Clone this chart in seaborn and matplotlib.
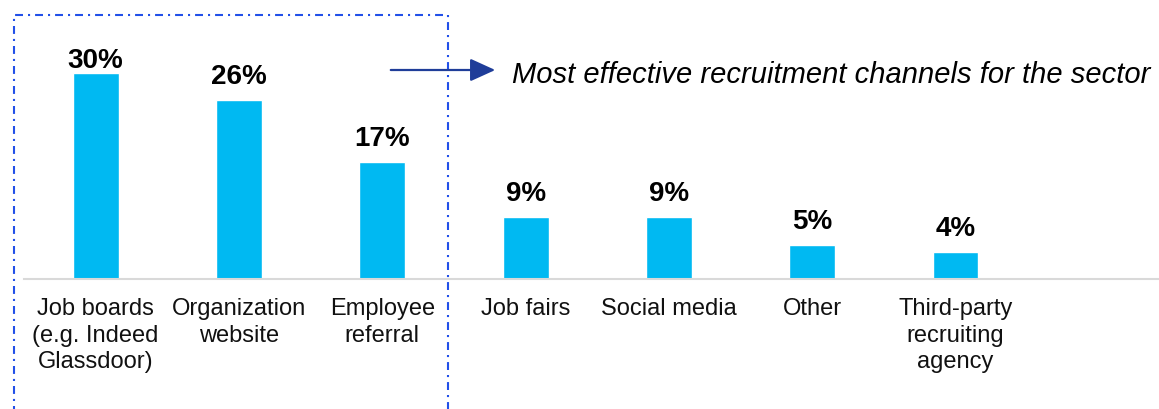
import matplotlib
matplotlib.use("Agg")
import matplotlib.pyplot as plt
import seaborn as sns
import pandas as pd
from matplotlib.patches import Rectangle, FancyArrowPatch

categories = ["Job boards\n(e.g. Indeed\nGlassdoor)", "Organization\nwebsite", "Employee\nreferral",
              "Job fairs", "Social media", "Other", "Third-party\nrecruiting\nagency"]
values = [30, 26, 17, 9, 9, 5, 4]
value_labels = ["30%", "26%", "17%", "9%", "9%", "5%", "4%"]
annotation = "Most effective recruitment channels for the sector"

sns.set_theme(style="white")
plt.rcParams['font.family'] = ['Liberation Sans', 'DejaVu Sans']

fig = plt.figure(figsize=(11.59, 4.09), dpi=100)
W, H = 1159, 409
ax = fig.add_axes([24 / W, (H - 279) / H, 1 - 24 / W, 279 / H])

df = pd.DataFrame({"cat": categories, "val": values})
sns.barplot(data=df, x="cat", y="val", color="#00b9f2", width=0.32, ax=ax, saturation=1)

ax.set_xlim(-0.5, 7.42)
ax.set_ylim(0, 40.6)
for s in ["top", "right", "left"]:
    ax.spines[s].set_visible(False)
ax.spines["bottom"].set_color("#d9d9d9")
ax.spines["bottom"].set_linewidth(1.5)
ax.set_yticks([])
ax.set_xlabel("")
ax.set_ylabel("")
ax.tick_params(axis="x", length=0, pad=14, labelsize=17)
for t in ax.get_xticklabels():
    t.set_linespacing(1.24)
    t.set_color("#111111")

# labels sit ~16px above bars, clamped below the chart top
gap = 2.33
top_limit = 30.7
for i, (v, lab) in enumerate(zip(values, value_labels)):
    ax.text(i, min(v + gap, top_limit), lab, ha="center", va="baseline",
            fontsize=20, fontweight="bold", color="black")

# dash-dot box
rect = Rectangle((14 / W, -0.1), (448 - 14) / W, (H - 15) / H + 0.1, transform=fig.transFigure,
                 fill=False, edgecolor="#2250e8", linewidth=1.5, linestyle=(0, (3.8, 2.4, 1, 2.4)),
                 clip_on=False)
fig.add_artist(rect)

# arrow
arr = FancyArrowPatch((388 / W, (H - 70) / H), (498 / W, (H - 70) / H), transform=fig.transFigure,
                      arrowstyle="-|>,head_length=1.1,head_width=0.5", mutation_scale=14,
                      color="#1f3d99", linewidth=1.6)
fig.add_artist(arr)
fig.text(512 / W, (H - 75) / H, annotation, fontsize=21, style="italic", color="black",
         ha="left", va="center")

fig.savefig("out.png", dpi=100)
